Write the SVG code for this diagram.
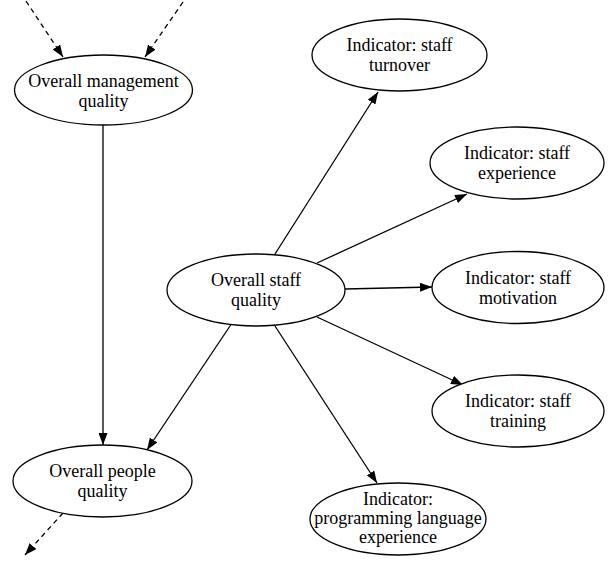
<svg xmlns="http://www.w3.org/2000/svg" width="610" height="564" viewBox="0 0 610 564">
<style>
.node ellipse{fill:#fff;stroke:#000;stroke-width:1.3}
.node text{font-family:'Liberation Serif','Times New Roman','DejaVu Serif',serif;font-size:18px;text-anchor:middle;fill:#000}
.edges line{stroke:#000;stroke-width:1.3;fill:none;marker-end:url(#ah)}
.edges .dash{stroke-dasharray:5,4}
</style>
<defs>
<marker id="ah" viewBox="0 0 12 9" refX="12" refY="4.5" markerWidth="12" markerHeight="9" markerUnits="userSpaceOnUse" orient="auto">
<path d="M0,0 L12,4.5 L0,9 Z" fill="#000"/>
</marker>
</defs>
<rect width="610" height="564" fill="#fff"/>
<g class="edges">
<line class="dash" x1="26" y1="1" x2="63" y2="57"/>
<line class="dash" x1="183" y1="2" x2="145" y2="57"/>
<line x1="103" y1="125" x2="103" y2="445"/>
<line x1="232" y1="323" x2="147" y2="450"/>
<line class="dash" x1="63" y1="513" x2="25" y2="555"/>
<line x1="275" y1="254" x2="378" y2="92"/>
<line x1="317" y1="263" x2="467" y2="194"/>
<line x1="345" y1="289" x2="432" y2="287"/>
<line x1="317" y1="317" x2="463" y2="385"/>
<line x1="275" y1="326" x2="377" y2="483"/>
</g>
<g class="node" id="mgmt">
<ellipse cx="103.5" cy="90" rx="89" ry="35"/>
<text x="103.5" y="87" font-family="Liberation Serif, serif">Overall management</text>
<text x="103.5" y="107" font-family="Liberation Serif, serif">quality</text>
</g>
<g class="node" id="people">
<ellipse cx="102.5" cy="481" rx="89.5" ry="36"/>
<text x="102.5" y="477">Overall people</text>
<text x="102.5" y="497">quality</text>
</g>
<g class="node" id="staff">
<ellipse cx="256" cy="290" rx="89" ry="36"/>
<text x="256" y="286">Overall staff</text>
<text x="256" y="306">quality</text>
</g>
<g class="node" id="turnover">
<ellipse cx="399.5" cy="55" rx="87.5" ry="36"/>
<text x="399.5" y="51">Indicator: staff</text>
<text x="399.5" y="71">turnover</text>
</g>
<g class="node" id="experience">
<ellipse cx="517" cy="163" rx="87" ry="36"/>
<text x="517" y="159">Indicator: staff</text>
<text x="517" y="179">experience</text>
</g>
<g class="node" id="motivation">
<ellipse cx="518" cy="287.5" rx="86" ry="36"/>
<text x="518" y="283.5">Indicator: staff</text>
<text x="518" y="303.5">motivation</text>
</g>
<g class="node" id="training">
<ellipse cx="518" cy="411" rx="86" ry="36"/>
<text x="518" y="407">Indicator: staff</text>
<text x="518" y="427">training</text>
</g>
<g class="node" id="proglang">
<ellipse cx="398" cy="519" rx="88" ry="36"/>
<text x="398" y="505">Indicator:</text>
<text x="398" y="524">programming language</text>
<text x="398" y="543">experience</text>
</g>
</svg>
